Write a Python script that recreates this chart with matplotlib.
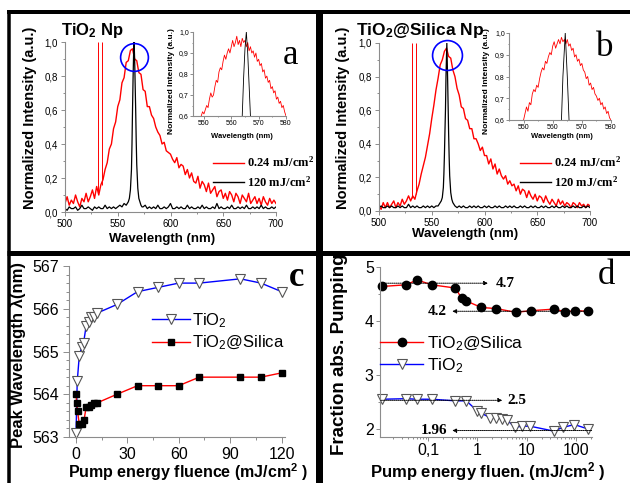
import numpy as np
import matplotlib
matplotlib.use("Agg")
import matplotlib.pyplot as plt
from matplotlib.lines import Line2D
from matplotlib.ticker import AutoMinorLocator, LogLocator, NullFormatter

plt.rcParams["font.family"] = ["Liberation Sans", "DejaVu Sans"]
plt.rcParams["mathtext.default"] = "regular"

W, H = 630, 483
SERIF = ["Liberation Serif", "DejaVu Serif"]
GREY = "#8c8c8c"
RED = "#ff0000"
BLUE = "#0000ff"

# ---------------- data: emission spectra (a, b) ----------------
# red curves sampled every 2 nm from 500 to 700 nm
red_a = [
    0.05, 0.09, 0.04, 0.07, 0.05, 0.10, 0.06, 0.03, 0.08, 0.06,
    0.11, 0.06, 0.09, 0.13, 0.08, 0.15, 0.10, 0.16, 0.19, 0.25,
    0.29, 0.37, 0.40, 0.49, 0.53, 0.62, 0.66, 0.76, 0.79, 0.88,
    0.89, 0.95, 0.96, 0.90, 0.89, 0.82, 0.81, 0.72, 0.71, 0.62,
    0.62, 0.57, 0.55, 0.50, 0.47, 0.45, 0.40, 0.41, 0.36, 0.35,
    0.34, 0.31, 0.29, 0.32, 0.26, 0.28, 0.27, 0.22, 0.25, 0.20,
    0.23, 0.18, 0.17, 0.21, 0.14, 0.18, 0.16, 0.12, 0.17, 0.11,
    0.13, 0.15, 0.09, 0.12, 0.13, 0.08, 0.11, 0.07, 0.12, 0.10,
    0.06, 0.11, 0.09, 0.05, 0.10, 0.08, 0.06, 0.11, 0.05, 0.07,
    0.09, 0.05, 0.08, 0.04, 0.09, 0.06, 0.04, 0.08, 0.05, 0.07,
    0.05,
]
red_b = [
    0.03, 0.01, 0.05, 0.02, 0.05, 0.02, 0.04, 0.06, 0.02, 0.05,
    0.03, 0.07, 0.04, 0.06, 0.09, 0.06, 0.09, 0.07, 0.12, 0.16,
    0.22, 0.27, 0.32, 0.39, 0.46, 0.55, 0.63, 0.72, 0.79, 0.87,
    0.90, 0.95, 0.97, 0.92, 0.91, 0.84, 0.80, 0.73, 0.69, 0.62,
    0.61, 0.55, 0.54, 0.49, 0.49, 0.43, 0.43, 0.40, 0.36, 0.38,
    0.33, 0.33, 0.28, 0.31, 0.25, 0.28, 0.22, 0.25, 0.21, 0.19,
    0.21, 0.16, 0.18, 0.15, 0.16, 0.12, 0.15, 0.10, 0.13, 0.12,
    0.08, 0.12, 0.09, 0.07, 0.10, 0.06, 0.09, 0.08, 0.05, 0.09,
    0.06, 0.04, 0.07, 0.05, 0.03, 0.07, 0.04, 0.06, 0.03, 0.05,
    0.04, 0.02, 0.05, 0.04, 0.02, 0.05, 0.03, 0.04, 0.02, 0.04,
    0.03,
]
# laser lines seen in the red spectra
laser_a = [531.3, 535.2]
laser_a_base = [0.12, 0.16]
laser_b = [531.6, 534.8]
laser_b_base = [0.08, 0.10]

# black curves: baseline every 2 nm plus a finely sampled peak
black_a_lo = [0.02, 0.01, 0.03, 0.02, 0.02, 0.03, 0.01, 0.02, 0.04, 0.02,
              0.02, 0.03, 0.02, 0.01, 0.03, 0.02, 0.03, 0.02, 0.02, 0.04,
              0.02, 0.03, 0.02, 0.03, 0.02, 0.03, 0.04, 0.03, 0.05]
peak_a_wl = [558, 559, 560, 561, 562, 563, 563.5, 564, 564.5, 565, 565.5,
             566, 566.5, 567, 567.5, 568, 569, 570, 571, 572, 573]
peak_a = [0.04, 0.05, 0.06, 0.08, 0.13, 0.25, 0.40, 0.60, 0.78, 0.92, 1.00,
          0.90, 0.75, 0.60, 0.42, 0.28, 0.14, 0.08, 0.06, 0.04, 0.03]
black_a_hi = [0.03, 0.04, 0.02, 0.03, 0.02, 0.03, 0.02, 0.04, 0.02, 0.02,
              0.03, 0.02, 0.03, 0.05, 0.02, 0.02, 0.03, 0.02, 0.03, 0.02,
              0.02, 0.04, 0.02, 0.03, 0.02, 0.02, 0.03, 0.02, 0.04, 0.02,
              0.03, 0.02, 0.02, 0.03, 0.02, 0.05, 0.02, 0.03, 0.02, 0.02,
              0.03, 0.02, 0.04, 0.02, 0.02, 0.03, 0.02, 0.03, 0.02, 0.04,
              0.02, 0.02, 0.03, 0.02, 0.03, 0.02, 0.04, 0.02, 0.03, 0.02,
              0.02, 0.03, 0.02, 0.03]

black_b_lo = [0.02, 0.03, 0.02, 0.02, 0.03, 0.02, 0.03, 0.02, 0.02, 0.03,
              0.02, 0.03, 0.02, 0.02, 0.04, 0.02, 0.03, 0.02, 0.03, 0.02,
              0.02, 0.03, 0.02, 0.03, 0.02, 0.03, 0.02, 0.03, 0.03]
peak_b_wl = [557, 558, 559, 560, 561, 561.5, 562, 562.5, 563, 563.5, 564.3,
             565, 565.6, 566, 566.5, 567, 568, 569, 570, 571]
peak_b = [0.04, 0.05, 0.06, 0.08, 0.14, 0.22, 0.33, 0.47, 0.60, 0.80, 1.00,
          0.80, 0.60, 0.46, 0.32, 0.21, 0.11, 0.07, 0.05, 0.04]
black_b_hi = [0.03, 0.02, 0.03, 0.02, 0.03, 0.02, 0.02, 0.03, 0.02, 0.03,
              0.02, 0.03, 0.02, 0.02, 0.03, 0.02, 0.03, 0.02, 0.02, 0.03,
              0.02, 0.03, 0.02, 0.02, 0.03, 0.02, 0.03, 0.02, 0.03, 0.02,
              0.02, 0.03, 0.02, 0.03, 0.02, 0.02, 0.03, 0.02, 0.03, 0.02,
              0.02, 0.03, 0.02, 0.03, 0.02, 0.02, 0.03, 0.02, 0.03, 0.02,
              0.02, 0.03, 0.02, 0.03, 0.02, 0.02, 0.03, 0.02, 0.03, 0.02,
              0.02, 0.03, 0.02, 0.03, 0.02]

# insets: red spectrum every 0.5 nm from 548 to 580 nm
inset_red_a = [
    0.58, 0.59, 0.60, 0.62, 0.61, 0.63, 0.65, 0.64, 0.68, 0.71,
    0.69, 0.70, 0.74, 0.77, 0.76, 0.81, 0.83, 0.82, 0.86, 0.89,
    0.87, 0.90, 0.92, 0.90, 0.93, 0.96, 0.93, 0.95, 0.98, 0.94,
    0.96, 0.93, 0.97, 0.95, 0.96, 0.93, 0.95, 0.91, 0.93, 0.90,
    0.91, 0.88, 0.90, 0.86, 0.87, 0.84, 0.85, 0.81, 0.82, 0.78,
    0.79, 0.76, 0.77, 0.73, 0.74, 0.71, 0.72, 0.68, 0.69, 0.66,
    0.67, 0.64, 0.65, 0.62, 0.60,
]
inset_red_b = [
    0.55, 0.56, 0.57, 0.58, 0.60, 0.63, 0.66, 0.64, 0.68, 0.67,
    0.72, 0.74, 0.73, 0.76, 0.75, 0.79, 0.82, 0.84, 0.83, 0.87,
    0.86, 0.89, 0.91, 0.90, 0.94, 0.96, 0.93, 0.95, 0.97, 0.95,
    0.98, 0.96, 0.97, 0.95, 0.97, 0.94, 0.95, 0.92, 0.93, 0.89,
    0.90, 0.87, 0.88, 0.85, 0.86, 0.83, 0.82, 0.79, 0.80, 0.76,
    0.77, 0.74, 0.75, 0.72, 0.71, 0.69, 0.70, 0.67, 0.68, 0.65,
    0.66, 0.63, 0.64, 0.61, 0.60,
]

spec_xticks = [500, 550, 600, 650, 700]
spec_yticks = [0.0, 0.2, 0.4, 0.6, 0.8, 1.0]
spec_ylabels = ["0,0", "0,2", "0,4", "0,6", "0,8", "1,0"]
inset_xticks = [550, 560, 570, 580]
inset_yticks = [0.6, 0.7, 0.8, 0.9, 1.0]
inset_ylabels = ["0,6", "0,7", "0,8", "0,9", "1,0"]
legend_labels = ["0.24 mJ/cm$^2$", "120 mJ/cm$^2$"]

# ---------------- data: peak wavelength (c) ----------------
c_tio2_x = [0.1, 0.8, 2.0, 3.4, 4.5, 6.0, 7.5, 9.0, 10.5, 12.5,
            24, 36, 48, 60, 72, 96, 108, 120]
c_tio2_y = [563.1, 564.3, 564.9, 565.1, 565.2, 565.6, 565.7, 565.8, 565.8, 565.9,
            566.1, 566.4, 566.5, 566.6, 566.6, 566.7, 566.6, 566.4]
c_sil_x = [0.1, 0.5, 1.0, 2.0, 3.4, 4.8, 6.0, 7.5, 9.0, 10.5, 12.5,
           24, 36, 48, 60, 72, 96, 108, 120]
c_sil_y = [564.0, 563.8, 563.6, 563.3, 563.3, 563.4, 563.7, 563.7, 563.75, 563.8, 563.8,
           564.0, 564.2, 564.2, 564.2, 564.4, 564.4, 564.4, 564.5]
c_xticks = [0, 30, 60, 90, 120]
c_yticks = [563, 564, 565, 566, 567]

# ---------------- data: fraction absorbed (d) ----------------
d_sil_x = [0.012, 0.036, 0.06, 0.12, 0.36, 0.48, 0.6, 1.2, 2.4, 6, 12, 36, 60, 96, 172]
d_sil_y = [4.64, 4.67, 4.76, 4.67, 4.61, 4.42, 4.37, 4.25, 4.23, 4.16, 4.19, 4.22, 4.17, 4.19, 4.18]
d_tio2_x = [0.012, 0.036, 0.06, 0.12, 0.36, 0.6, 1.0, 1.2, 1.8, 2.4, 3.1, 3.9,
            5.8, 7.9, 11.7, 35, 55, 92, 172]
d_tio2_y = [2.55, 2.56, 2.55, 2.55, 2.52, 2.52, 2.33, 2.29, 2.21, 2.21, 2.19, 2.17,
            2.03, 2.05, 2.05, 1.96, 2.03, 2.08, 2.00]
d_xticks = [0.1, 1, 10, 100]
d_xlabels = ["0,1", "1", "10", "100"]
d_yticks = [2, 3, 4, 5]
# (label, level, arrow start, arrow end, text x)
d_notes = [
    ("4.7", 4.70, 0.012, 1.65, 3.6),
    ("4.2", 4.18, 205, 0.31, 0.155),
    ("2.5", 2.53, 0.011, 3.2, 6.4),
    ("1.96", 1.97, 205, 0.31, 0.13),
]


def box(x0, y0, x1, y1):
    return [x0 / W, 1 - y1 / H, (x1 - x0) / W, (y1 - y0) / H]


def fx(x):
    return x / W


def fy(y):
    return 1 - y / H


def style(ax, size, major=3.0, minor=1.6, pad=2.0):
    for s in ("top", "right"):
        ax.spines[s].set_visible(False)
    for s in ("left", "bottom"):
        ax.spines[s].set_color(GREY)
        ax.spines[s].set_linewidth(0.8)
    ax.tick_params(which="both", direction="out", color=GREY, width=0.7,
                   labelsize=size, pad=pad)
    ax.tick_params(which="major", length=major)
    ax.tick_params(which="minor", length=minor)
    ax.patch.set_alpha(0)


fig = plt.figure(figsize=(6.3, 4.83), dpi=100)


def spectrum_panel(rect, red, laser, laser_base, blo, pk_wl, pk, bhi, hi_start,
                   circle, circle_ms):
    ax = fig.add_axes(rect)
    ax.plot(np.linspace(500, 700, len(red)), red, color=RED, lw=1.0)
    ax.vlines(laser, laser_base, 1.0, color=RED, lw=0.7)
    wl = np.concatenate([np.linspace(500, 556, len(blo)), pk_wl,
                         np.linspace(hi_start, 700, len(bhi))])
    ax.plot(wl, np.concatenate([blo, pk, bhi]), color="black", lw=0.9)
    ax.plot([circle[0]], [circle[1]], "o", ms=circle_ms, mfc="none", mec=BLUE,
            mew=1.2, clip_on=False)
    ax.set_xlim(500, 700)
    ax.set_ylim(0, 1)
    ax.set_xticks(spec_xticks)
    ax.set_yticks(spec_yticks, spec_ylabels)
    ax.xaxis.set_minor_locator(AutoMinorLocator(2))
    ax.yaxis.set_minor_locator(AutoMinorLocator(2))
    style(ax, 7)
    return ax


def inset_panel(rect, xmin, red_fine, pk_wl, pk):
    ins = fig.add_axes(rect)
    ins.plot(np.linspace(548, 580, len(red_fine)), red_fine, color=RED, lw=0.6)
    ins.plot(pk_wl, pk, color="black", lw=0.6)
    ins.set_xlim(xmin, 580)
    ins.set_ylim(0.6, 1.0)
    ins.set_xticks(inset_xticks)
    ins.set_yticks(inset_yticks, inset_ylabels)
    ins.xaxis.set_minor_locator(AutoMinorLocator(2))
    ins.yaxis.set_minor_locator(AutoMinorLocator(2))
    style(ins, 5, major=2, minor=1, pad=1)
    return ins


def spectrum_legend(x_px):
    handles = [Line2D([], [], color=RED, lw=1), Line2D([], [], color="black", lw=1)]
    fig.legend(handles, legend_labels, loc="center left",
               bbox_to_anchor=(fx(x_px), fy(172.5)), frameon=False,
               prop=dict(family=SERIF, weight="bold", size=9),
               handlelength=2.5, handletextpad=0.2, labelspacing=0.4,
               borderpad=0, borderaxespad=0)


# ---- panel a ----
spectrum_panel(box(65, 42, 276, 212), red_a, laser_a, laser_a_base,
               black_a_lo, peak_a_wl, peak_a, black_a_hi, 574, (565.4, 0.91), 20)
inset_panel(box(193, 32, 286, 116), 546, inset_red_a, peak_a_wl, peak_a)
spectrum_legend(213)
fig.text(fx(92), fy(31), "TiO$_2$ Np", fontsize=12, fontweight="bold",
         ha="center", va="center")
fig.text(fx(291), fy(55), "a", fontsize=25, family=SERIF, ha="center", va="center")
fig.text(fx(30), fy(118), "Normalized Intensity (a.u.)", fontsize=10.5,
         fontweight="bold", rotation=90, ha="center", va="center")
fig.text(fx(162), fy(239), "Wavelength (nm)", fontsize=9.5, fontweight="bold",
         ha="center", va="center")
fig.text(fx(172), fy(81), "Normalized Intensity (a.u.)", fontsize=6,
         fontweight="bold", rotation=90, ha="center", va="center")
fig.text(fx(242), fy(136), "Wavelength (nm)", fontsize=5.5, fontweight="bold",
         ha="center", va="center")

# ---- panel b ----
spectrum_panel(box(379, 43, 590, 211), red_b, laser_b, laser_b_base,
               black_b_lo, peak_b_wl, peak_b, black_b_hi, 572, (564.2, 0.93), 21.5)
inset_panel(box(509, 33, 611, 120), 545, inset_red_b, peak_b_wl, peak_b)
spectrum_legend(520)
fig.text(fx(420), fy(30), "TiO$_2$@Silica Np", fontsize=12.5, fontweight="bold",
         ha="center", va="center")
fig.text(fx(605), fy(48), "b", fontsize=25, family=SERIF, ha="center", va="center")
fig.text(fx(343), fy(118), "Normalized Intensity (a.u.)", fontsize=10.5,
         fontweight="bold", rotation=90, ha="center", va="center")
fig.text(fx(465), fy(234), "Wavelength (nm)", fontsize=9.5, fontweight="bold",
         ha="center", va="center")
fig.text(fx(487), fy(81), "Normalized Intensity (a.u.)", fontsize=6,
         fontweight="bold", rotation=90, ha="center", va="center")
fig.text(fx(562), fy(137), "Wavelength (nm)", fontsize=5.5, fontweight="bold",
         ha="center", va="center")

# ---- panel c ----
axc = fig.add_axes(box(69, 266, 285, 437))
axc.plot(c_tio2_x, c_tio2_y, color=BLUE, lw=1, marker="v", ms=7, mfc="white",
         mec="#555555", mew=0.8, clip_on=False, label="TiO$_2$")
axc.plot(c_sil_x, c_sil_y, color=RED, lw=1, marker="s", ms=5, mfc="black",
         mec="black", clip_on=False, label="TiO$_2$@Silica")
axc.set_xlim(-4, 122)
axc.set_ylim(563, 567)
axc.set_xticks(c_xticks)
axc.set_yticks(c_yticks)
axc.xaxis.set_minor_locator(AutoMinorLocator(2))
axc.yaxis.set_minor_locator(AutoMinorLocator(5))
style(axc, 11.5, major=4, minor=2, pad=3)
axc.legend(loc="center left", bbox_to_anchor=(fx(152), fy(331.5)),
           bbox_transform=fig.transFigure, frameon=False, fontsize=12,
           handlelength=2.3, handletextpad=0.1, labelspacing=0.25,
           borderpad=0, borderaxespad=0)
fig.text(fx(297), fy(278), "c", fontsize=25, family=SERIF, fontweight="bold",
         ha="center", va="center")
fig.text(fx(18), fy(355), "Peak Wavelength λ(nm)", fontsize=12,
         fontweight="bold", rotation=90, ha="center", va="center")
fig.text(fx(188), fy(472), "Pump energy fluence (mJ/cm$^2$ )", fontsize=11.5,
         fontweight="bold", ha="center", va="center")

# ---- panel d ----
axd = fig.add_axes(box(380, 267, 592, 437))
axd.plot(d_sil_x, d_sil_y, color=RED, lw=1, marker="o", ms=6, mfc="black",
         mec="black", clip_on=False, label="TiO$_2$@Silica")
axd.plot(d_tio2_x, d_tio2_y, color=BLUE, lw=1, marker="v", ms=7, mfc="white",
         mec="#555555", mew=0.8, clip_on=False, label="TiO$_2$")
axd.set_xscale("log")
axd.set_xlim(0.0107, 209)
axd.set_ylim(1.85, 5.0)
axd.set_xticks(d_xticks, d_xlabels)
axd.xaxis.set_minor_locator(LogLocator(subs=np.arange(2, 10)))
axd.xaxis.set_minor_formatter(NullFormatter())
axd.set_yticks(d_yticks)
axd.yaxis.set_minor_locator(AutoMinorLocator(2))
style(axd, 11.5, major=3, minor=1.6, pad=1.5)
axd.legend(loc="center left", bbox_to_anchor=(fx(380), fy(354.5)),
           bbox_transform=fig.transFigure, frameon=False, fontsize=12.5,
           handlelength=2.5, handletextpad=0.2, labelspacing=0.2,
           borderpad=0, borderaxespad=0)
for label, level, x_from, x_to, x_text in d_notes:
    axd.annotate("", xy=(x_to, level), xytext=(x_from, level),
                 arrowprops=dict(arrowstyle="-|>", linestyle=(0, (1, 1)), lw=0.7,
                                 color="black", mutation_scale=6,
                                 shrinkA=0, shrinkB=0))
    axd.text(x_text, level, label, family=SERIF, fontweight="bold", fontsize=11,
             ha="center", va="center")
fig.text(fx(606), fy(275), "d", fontsize=25, family=SERIF, ha="center", va="center")
fig.text(fx(340), fy(354), "Fraction abs. Pumping", fontsize=13.5,
         fontweight="bold", rotation=90, ha="center", va="center")
fig.text(fx(488), fy(472), "Pump energy fluen. (mJ/cm$^2$ )", fontsize=12,
         fontweight="bold", ha="center", va="center")


# ---- black panel frames ----
def frame(x0, y0, x1, y1, w):
    fig.add_artist(Line2D([fx(x0), fx(x1)], [fy(y0), fy(y1)], color="black",
                          lw=w * 0.72, solid_capstyle="butt", zorder=10))


frame(7, 12, 630, 12, 4)
frame(9, 10, 9, 483, 3.5)
frame(318.5, 10, 318.5, 483, 7)
frame(7, 252.5, 630, 252.5, 5)

fig.savefig("out.png", dpi=100, facecolor="white")
